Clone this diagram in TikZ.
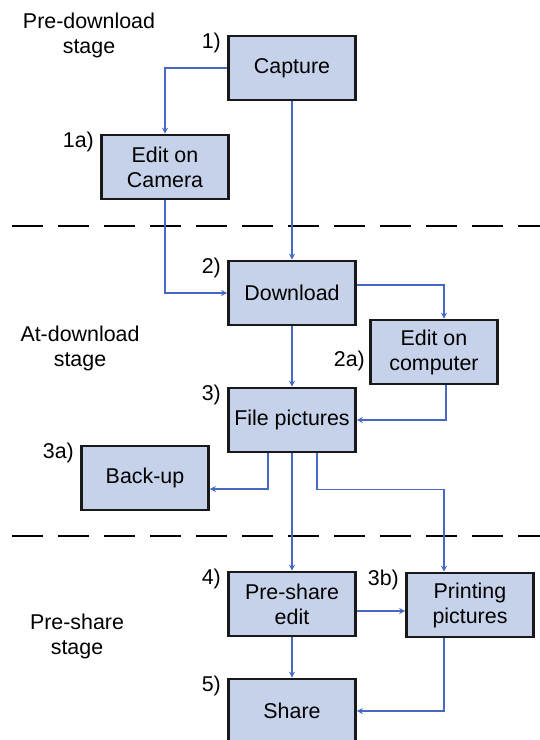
\documentclass[tikz,border=0pt]{standalone}
\usepackage{fontspec}
\setmainfont{Liberation Sans}
\usetikzlibrary{arrows.meta}
\definecolor{boxfill}{RGB}{198,210,233}
\definecolor{flow}{RGB}{72,104,196}
\begin{document}
\begin{tikzpicture}[x=.5pt,y=-.5pt,
  every node/.style={font={\fontsize{10.7}{12.5}\selectfont},align=center},
  stagebox/.style={draw=black!90,line width=1.3pt,fill=boxfill,minimum width=63.5pt,minimum height=32pt,inner sep=0pt},
  num/.style={inner sep=0pt,anchor=north east},
  flowline/.style={flow,line width=.6pt,-{Stealth[length=3pt,width=3pt]}},
  sepline/.style={line width=1.3pt,dash pattern=on 15.5pt off 7.5pt}]
\useasboundingbox[fill=white](0,0) rectangle (540,740);
\foreach \y in {226,536}{\draw[sepline](12,\y)--(540,\y);}
\node(s1) at(89,35){Pre-download\\stage};\node(s2) at(80,348){At-download\\stage};\node(s3) at(77,636){Pre-share\\stage};
\node[stagebox](cap) at(292,68){Capture};
\node[stagebox](cam) at(165,167){Edit on\\Camera};
\node[stagebox](dl) at(292,293){Download};
\node[stagebox](pc) at(434,352){Edit on\\computer};
\node[stagebox](file) at(292,420){File pictures};
\node[stagebox](back) at(145,478){Back-up};
\node[stagebox](pre) at(292,604){Pre-share\\edit};
\node[stagebox](print) at(470,605){Printing\\pictures};
\node[stagebox](share) at(292,711){Share};
\foreach \b/\t in {cap/1),cam/1a),dl/2),file/3),back/3a),pre/4),print/3b),share/5)}{\node[num](n\b) at([xshift=-3pt,yshift=1pt]\b.north west){\t};}
\node[num,anchor=east](npc) at([xshift=-2pt,yshift=-4.5pt]pc.west){2a)};
\draw[flowline](cap.west) -| (cam.north);\draw[flowline](cap.south)--(dl.north);
\draw[flowline](cam.south) |- (dl.west);
\draw[flowline]([yshift=4pt]dl.east) -| ([xshift=5pt]pc.north);\draw[flowline](dl.south)--(file.north);
\draw[flowline]([xshift=6pt]pc.south) |- (file.east);
\draw[flowline]([xshift=-12pt]file.south) |- ([yshift=-5.5pt]back.east);
\draw[flowline](file.south)--(pre.north);
\draw[flowline]([xshift=12.5pt]file.south)--++(0,36) -| ([xshift=-13pt]print.north);
\draw[flowline]([yshift=-3.5pt]pre.east)--([yshift=-3.5pt]pre.east -| print.west);
\draw[flowline](pre.south)--(share.north);\draw[flowline]([xshift=-13pt]print.south) |- (share.east);
\end{tikzpicture}
\end{document}
